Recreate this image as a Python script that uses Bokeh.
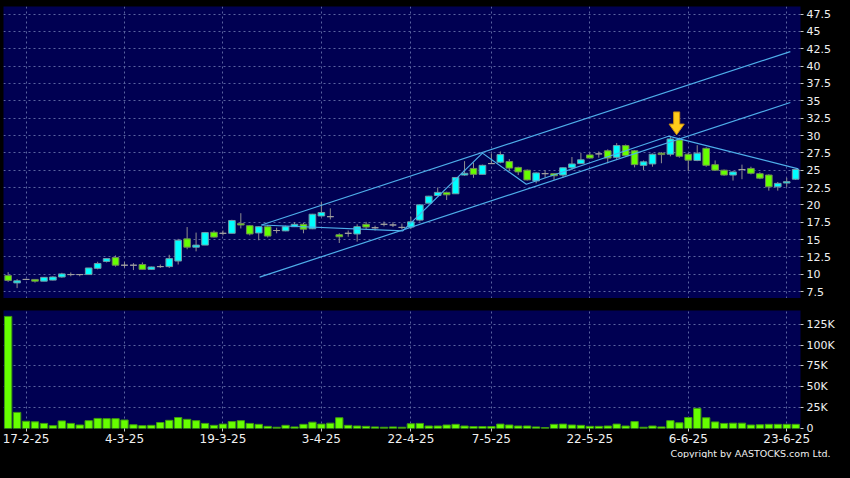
import pandas as pd
from bokeh.plotting import figure
from bokeh.layouts import column
from bokeh.models import Range1d, FixedTicker, ColumnDataSource, Title, GlobalInlineStyleSheet
from bokeh.embed import file_html
from bokeh.resources import INLINE

# ---------------- data ----------------
HOLIDAYS = ["2025-04-04", "2025-04-18", "2025-04-21", "2025-05-01", "2025-05-05"]
days = [d for d in pd.bdate_range("2025-02-13", "2025-06-24") if d.strftime("%Y-%m-%d") not in HOLIDAYS]
dates = [f"{d.day}-{d.month}-{d.year % 100}" for d in days]

opens = [9.8, 8.75, 9.25, 9.25, 9.0, 9.15, 9.6, 9.95, 9.95, 9.95,
         10.85, 11.85, 12.4, 11.3, 11.3, 11.4, 10.7, 11.1, 11.1, 11.9,
         15.1, 13.9, 14.2, 16.05, 15.9, 15.9, 17.3, 17.0, 15.95, 16.85,
         16.3, 16.25, 16.85, 17.2, 16.55, 18.4, 18.3, 15.7, 15.9, 15.8,
         17.2, 16.7, 17.2, 17.1, 16.75, 16.8, 17.8, 20.25, 21.35, 21.8,
         21.6, 24.3, 25.25, 24.4, 25.95, 26.15, 26.25, 25.4, 25.0, 23.45,
         24.5, 24.5, 24.3, 25.35, 25.95, 27.2, 27.35, 27.8, 26.85, 28.55,
         27.8, 25.7, 25.9, 27.45, 27.3, 29.35, 27.3, 26.4, 28.15, 25.8,
         25.0, 24.3, 25.1, 25.25, 24.5, 24.3, 22.6, 23.15, 23.7]
highs = [10.3, 9.3, 9.35, 9.3, 9.6, 9.7, 10.2, 10.25, 10.0, 10.9,
         11.8, 12.3, 12.7, 11.8, 11.6, 11.7, 11.1, 11.4, 12.8, 15.1,
         16.8, 16.0, 16.1, 16.3, 16.3, 17.85, 18.8, 17.1, 16.9, 17.1,
         16.7, 17.0, 17.5, 17.4, 18.7, 20.4, 19.5, 15.9, 16.3, 17.2,
         17.55, 17.0, 17.6, 17.5, 17.3, 18.3, 20.1, 21.3, 22.5, 21.9,
         24.0, 26.3, 26.1, 25.8, 27.4, 27.7, 26.6, 25.5, 25.1, 24.7,
         25.0, 24.6, 25.4, 26.9, 27.5, 27.6, 27.7, 28.0, 28.9, 28.7,
         27.9, 26.4, 27.4, 27.6, 29.8, 29.7, 27.5, 28.6, 28.3, 26.4,
         25.1, 24.9, 25.8, 25.5, 24.7, 24.4, 23.3, 23.9, 25.1]
lows = [8.9, 8.0, 9.15, 8.8, 9.0, 9.1, 9.5, 9.7, 9.7, 9.95,
        10.7, 11.7, 11.1, 10.9, 10.6, 10.7, 10.65, 10.9, 10.9, 11.4,
        13.6, 13.3, 14.2, 15.3, 15.6, 15.9, 16.6, 15.6, 14.9, 15.3,
        15.9, 16.2, 16.8, 15.9, 16.5, 18.3, 17.9, 14.5, 15.4, 14.7,
        16.5, 16.3, 16.9, 16.8, 16.5, 16.5, 17.6, 20.2, 21.3, 20.7,
        21.6, 24.2, 23.9, 24.4, 25.9, 26.0, 24.9, 24.3, 23.5, 23.1,
        23.9, 23.6, 23.9, 25.0, 25.9, 26.7, 26.8, 26.0, 26.5, 27.0,
        25.4, 25.0, 25.5, 26.0, 27.0, 26.8, 24.9, 26.3, 25.5, 24.9,
        24.2, 23.5, 23.7, 24.4, 23.7, 22.05, 22.05, 22.6, 23.6]
closes = [9.1, 9.05, 9.25, 9.0, 9.55, 9.6, 10.05, 9.95, 9.95, 10.9,
          11.55, 12.25, 11.3, 11.3, 11.3, 10.7, 11.05, 11.1, 12.25, 14.9,
          13.9, 14.2, 16.0, 15.35, 15.9, 17.75, 17.1, 15.8, 16.85, 15.5,
          16.3, 16.85, 17.2, 16.5, 18.65, 18.9, 18.3, 15.4, 15.9, 16.85,
          16.8, 16.7, 17.2, 17.1, 16.75, 17.55, 20.0, 21.25, 21.8, 21.45,
          23.95, 24.55, 24.4, 25.7, 25.95, 27.25, 25.3, 24.75, 23.6, 24.6,
          24.5, 24.2, 25.35, 25.9, 26.5, 26.75, 27.35, 26.75, 28.55, 27.1,
          25.8, 26.2, 27.3, 27.25, 29.5, 27.0, 26.45, 27.45, 25.7, 25.0,
          24.3, 24.75, 25.1, 24.55, 23.85, 22.6, 23.1, 23.35, 25.1]
volume_k = [134.4, 19.3, 8.7, 8.0, 6.1, 3.4, 9.1, 6.1, 4.2, 9.4,
            12.1, 11.8, 11.8, 10.2, 4.5, 3.4, 3.8, 7.2, 9.8, 13.2,
            11.0, 9.4, 6.1, 3.8, 5.3, 8.3, 9.4, 6.1, 5.0, 2.6,
            1.5, 3.8, 1.9, 5.0, 7.6, 5.3, 6.4, 12.9, 3.8, 3.0,
            2.6, 1.9, 1.5, 1.9, 1.5, 5.7, 6.1, 3.0, 3.0, 4.2,
            5.0, 3.0, 2.3, 2.3, 2.3, 5.3, 4.2, 3.0, 3.0, 1.9,
            1.1, 5.0, 5.3, 4.2, 3.8, 2.6, 2.6, 3.0, 5.3, 3.0,
            8.3, 1.5, 3.0, 1.9, 9.4, 6.8, 13.2, 24.2, 12.9, 7.9,
            6.1, 6.4, 6.4, 4.2, 4.5, 5.0, 5.0, 5.0, 5.0]

tick_labels = ["17-2-25", "4-3-25", "19-3-25", "3-4-25", "22-4-25",
               "7-5-25", "22-5-25", "6-6-25", "23-6-25"]
price_ticks = [7.5, 10, 12.5, 15, 17.5, 20, 22.5, 25, 27.5, 30, 32.5, 35, 37.5, 40, 42.5, 45, 47.5]
price_tick_labels = ["7.5", "10", "12.5", "15", "17.5", "20", "22.5", "25", "27.5", "30",
                     "32.5", "35", "37.5", "40", "42.5", "45", "47.5"]
vol_ticks = [0, 25000, 50000, 75000, 100000, 125000]
vol_tick_labels = ["0", "25K", "50K", "75K", "100K", "125K"]

# trend lines (candle index, price)
upper_channel_x = [28.3, 87.4]
upper_channel_y = [17.1, 42.1]
lower_channel_x = [28.1, 87.4]
lower_channel_y = [9.58, 34.76]
zigzag_x = [28.3, 44.1, 53.0, 57.9, 73.8, 88.3]
zigzag_y = [17.1, 16.26, 27.46, 22.97, 29.9, 25.2]
arrow_day = "5-6-25"

# ---------------- styles ----------------
BG = "#000000"
PLOT_BG = "#000052"
UP = "#00ffff"
DOWN = "#66ff00"
FLAT = "#a0a0a0"
WICK = "#8f8f8f"
GRID = "#5a64a0"
TREND = "#4eaeea"
TXT = "#f0f0f0"
FONT = "DejaVu Sans"

n = len(dates)
idx = list(range(n))
colors, tops, bots, outl = [], [], [], []
for o, c in zip(opens, closes):
    if c > o:
        colors.append(UP); outl.append("#6f9aa6")
    elif c < o:
        colors.append(DOWN); outl.append("#6f8a55")
    else:
        colors.append(FLAT); outl.append(FLAT)
    tops.append(max(o, c)); bots.append(min(o, c))

src = ColumnDataSource(dict(x=idx, o=opens, h=highs, l=lows, c=closes,
                            top=tops, bot=bots, col=colors, outl=outl,
                            vol=[v * 1000 for v in volume_k]))

tick_idx = [dates.index(t) for t in tick_labels]
xr = Range1d(-0.52, n - 0.46)

FW = 797
# ---------------- price panel ----------------
p = figure(frame_width=FW, frame_height=292, x_range=xr, y_range=Range1d(6.5, 48.6),
           y_axis_location="right", output_backend="svg", toolbar_location=None,
           background_fill_color=PLOT_BG, border_fill_color=BG,
           min_border_left=3, min_border_top=6, min_border_bottom=0, min_border_right=34)
p.outline_line_color = None
p.xaxis.visible = False
p.xgrid.ticker = FixedTicker(ticks=tick_idx)
p.yaxis.ticker = FixedTicker(ticks=price_ticks)
p.yaxis.major_label_overrides = {t: l for t, l in zip(price_ticks, price_tick_labels)}
for g in (p.xgrid, p.ygrid):
    g.grid_line_color = GRID
    g.grid_line_dash = "2 3"
    g.grid_line_width = 1

p.segment(x0="x", y0="l", x1="x", y1="h", source=src, line_color=WICK, line_width=1)
p.vbar(x="x", top="top", bottom="bot", width=0.74, source=src,
       fill_color="col", line_color="outl", line_width=1)

p.line(upper_channel_x, upper_channel_y, line_color=TREND, line_width=1.2)
p.line(lower_channel_x, lower_channel_y, line_color=TREND, line_width=1.2)
p.line(zigzag_x, zigzag_y, line_color=TREND, line_width=1.2)

# arrow marker above the peak
ai = dates.index(arrow_day) - 0.3
tip = max(highs[int(ai) : int(ai) + 2]) + 0.3
ax = [ai - 0.34, ai + 0.34, ai + 0.34, ai + 0.85, ai, ai - 0.85, ai - 0.34]
ay = [tip + 3.3, tip + 3.3, tip + 1.55, tip + 1.55, tip, tip + 1.55, tip + 1.55]
p.patch(ax, ay, fill_color="#ffcc1a", line_color="#c88a10", line_width=1)

# ---------------- volume panel ----------------
p2 = figure(frame_width=FW, frame_height=118, x_range=xr, y_range=Range1d(0, 141500),
            y_axis_location="right", output_backend="svg", toolbar_location=None,
            background_fill_color=PLOT_BG, border_fill_color=BG,
            min_border_left=3, min_border_top=12, min_border_bottom=0, min_border_right=34)
p2.outline_line_color = None
p2.vbar(x="x", top="vol", bottom=0, width=0.82, source=src,
        fill_color=DOWN, line_color="#3f9a10", line_width=1)
p2.xaxis.ticker = FixedTicker(ticks=tick_idx)
p2.xaxis.major_label_overrides = {i: dates[i] for i in tick_idx}
p2.xgrid.ticker = FixedTicker(ticks=tick_idx)
p2.yaxis.ticker = FixedTicker(ticks=vol_ticks)
p2.yaxis.major_label_overrides = {t: l for t, l in zip(vol_ticks, vol_tick_labels)}
for g in (p2.xgrid, p2.ygrid):
    g.grid_line_color = GRID
    g.grid_line_dash = "2 3"
    g.grid_line_width = 1

for ax_ in (p.yaxis[0], p2.yaxis[0], p2.xaxis[0]):
    ax_.axis_line_color = None
    ax_.major_tick_line_color = "#c8c8c8"
    ax_.major_tick_in = 0
    ax_.major_tick_out = 3
    ax_.minor_tick_line_color = None
    ax_.major_label_text_color = TXT
    ax_.major_label_text_font = FONT
    ax_.major_label_text_font_size = "11px"
    ax_.major_label_standoff = 3
p2.xaxis.major_label_text_font_size = "12px"
p2.xaxis.major_label_standoff = 2

p2.add_layout(Title(text="Copyright by AASTOCKS.com Ltd.", align="right", text_color=TXT,
                    text_font=FONT, text_font_size="9.5px", text_font_style="normal",
                    standoff=0, offset=-30), "below")

layout = column(p, p2, spacing=0,
                stylesheets=[GlobalInlineStyleSheet(css="body{background:#000000;}")])
open("out.html", "w").write(file_html(layout, INLINE))
